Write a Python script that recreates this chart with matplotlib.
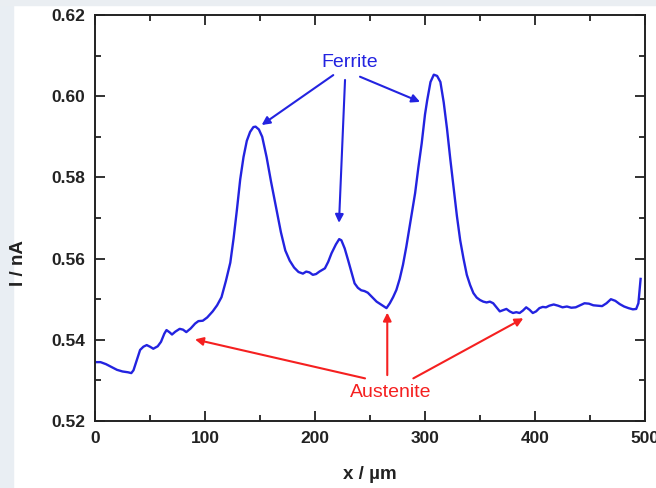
import matplotlib
matplotlib.use("Agg")
import matplotlib.pyplot as plt
from matplotlib.patches import Rectangle
from matplotlib.ticker import MultipleLocator

plt.rcParams['font.family'] = ['Liberation Sans', 'DejaVu Sans']

# Line scan of tip current across the duplex steel surface
position_um = [0, 5, 10, 15, 20, 25, 30, 33, 35, 38, 41, 44, 47, 50, 53, 57, 60, 63, 65, 68,
               70, 73, 77, 80, 83, 87, 91, 94, 98, 102, 107, 111, 115, 119, 123, 126, 129, 132,
               135, 138, 141, 144, 146, 149, 152, 156, 160, 165, 169, 173, 177, 181, 185, 189,
               192, 195, 198, 201, 204, 209, 212, 215, 219, 222, 224, 227, 230, 233, 236, 239,
               242, 245, 248, 252, 256, 260, 265, 268, 271, 274, 277, 280, 283, 287, 291, 294,
               297, 300, 302, 305, 308, 311, 314, 317, 320, 323, 326, 329, 332, 335, 338, 341,
               344, 347, 350, 353, 356, 359, 362, 365, 368, 371, 374, 377, 380, 383, 386, 389,
               392, 395, 398, 401, 404, 407, 410, 413, 417, 421, 425, 429, 433, 437, 441, 445,
               449, 453, 457, 461, 465, 469, 473, 477, 481, 485, 489, 492, 494, 496]
current_nA = [0.5345, 0.5345, 0.5340, 0.5333, 0.5326, 0.5322, 0.5320, 0.5318, 0.5325, 0.5350,
              0.5375, 0.5383, 0.5387, 0.5383, 0.5378, 0.5384, 0.5395, 0.5415, 0.5424, 0.5418,
              0.5413, 0.5420, 0.5427, 0.5425, 0.5419, 0.5428, 0.5440, 0.5446, 0.5447, 0.5455,
              0.5470, 0.5485, 0.5505, 0.5545, 0.5590, 0.5650, 0.5720, 0.5795, 0.5850, 0.5890,
              0.5912, 0.5924, 0.5925, 0.5918, 0.5900, 0.5850, 0.5790, 0.5720, 0.5665, 0.5620,
              0.5595, 0.5578, 0.5567, 0.5563, 0.5568, 0.5566, 0.5560, 0.5562, 0.5568, 0.5576,
              0.5592, 0.5613, 0.5635, 0.5648, 0.5645, 0.5625, 0.5597, 0.5568, 0.5539, 0.5528,
              0.5522, 0.5520, 0.5516, 0.5505, 0.5494, 0.5487, 0.5478, 0.5490, 0.5505, 0.5523,
              0.5550, 0.5585, 0.5629, 0.5695, 0.5761, 0.5825, 0.5884, 0.5955, 0.5990, 0.6035,
              0.6053, 0.6050, 0.6035, 0.5985, 0.5920, 0.5845, 0.5775, 0.5705, 0.5645, 0.5600,
              0.5560, 0.5535, 0.5515, 0.5504, 0.5498, 0.5494, 0.5492, 0.5494, 0.5490, 0.5480,
              0.5470, 0.5473, 0.5476, 0.5470, 0.5466, 0.5468, 0.5466, 0.5472, 0.5480, 0.5474,
              0.5466, 0.5470, 0.5478, 0.5481, 0.5480, 0.5484, 0.5487, 0.5484, 0.5480, 0.5482,
              0.5479, 0.5480, 0.5485, 0.5490, 0.5489, 0.5485, 0.5484, 0.5483, 0.5490, 0.5500,
              0.5496, 0.5488, 0.5482, 0.5478, 0.5475, 0.5476, 0.5490, 0.5550]

x_ticks = [0, 100, 200, 300, 400, 500]
y_ticks = [0.52, 0.54, 0.56, 0.58, 0.60, 0.62]
y_tick_labels = ['0.52', '0.54', '0.56', '0.58', '0.60', '0.62']

# Phase annotations: label position and arrow targets (data coordinates)
ferrite_label = (231.8, 0.6084)
ferrite_arrows = [((216.6, 0.6052), (151.5, 0.5929)),
                  ((227.3, 0.6040), (221.8, 0.5688)),
                  ((240.9, 0.6048), (295.5, 0.5986))]
austenite_label = (269.0, 0.5270)
austenite_arrows = [((245.5, 0.5305), (90.9, 0.5401)),
                    ((265.7, 0.5313), (265.7, 0.5467)),
                    ((289.4, 0.5305), (389.4, 0.5453))]

W, H = 656, 488
fig = plt.figure(figsize=(W / 100, H / 100), dpi=100, facecolor='white')

# light page margin along the left and top edges
fig.patches.append(Rectangle((0, 0), 13 / W, 1, transform=fig.transFigure,
                             color='#e9eef3', zorder=-10))
fig.patches.append(Rectangle((0, 1 - 5 / H), 1, 5 / H, transform=fig.transFigure,
                             color='#eaeef2', zorder=-10))

left, right, top, bottom = 95, 645, 15, 421
ax = fig.add_axes([left / W, 1 - bottom / H, (right - left) / W, (bottom - top) / H])

blue = '#2323e0'
red = '#f52020'

ax.plot(position_um, current_nA, color=blue, lw=1.7)

ax.set_xlim(0, 500)
ax.set_ylim(0.52, 0.62)
ax.set_xticks(x_ticks)
ax.set_xticklabels([str(t) for t in x_ticks])
ax.set_yticks(y_ticks)
ax.set_yticklabels(y_tick_labels)
ax.xaxis.set_minor_locator(MultipleLocator(50))
ax.yaxis.set_minor_locator(MultipleLocator(0.01))

for s in ax.spines.values():
    s.set_linewidth(1.4)
    s.set_color('#222222')
ax.tick_params(which='both', direction='in', top=True, right=True, color='#222222',
               width=1.3, labelsize=12.5, pad=7)
ax.tick_params(which='major', length=7)
ax.tick_params(which='minor', length=4)
for lab in ax.get_xticklabels() + ax.get_yticklabels():
    lab.set_fontweight('bold')
    lab.set_color('#222222')

ax.set_xlabel('x / µm', fontsize=13.5, fontweight='bold', color='#222222')
ax.xaxis.set_label_coords(0.5, -0.11)
ax.set_ylabel('I / nA', fontsize=13.5, fontweight='bold', color='#222222')
ax.yaxis.set_label_coords(-0.123, 0.39)

ax.text(*ferrite_label, 'Ferrite', color=blue, fontsize=14, ha='center', va='center')
for tail, head in ferrite_arrows:
    ax.annotate('', xy=head, xytext=tail,
                arrowprops=dict(arrowstyle='-|>', color=blue, lw=1.5,
                                mutation_scale=12, shrinkA=0, shrinkB=0))

ax.text(*austenite_label, 'Austenite', color=red, fontsize=14, ha='center', va='center')
for tail, head in austenite_arrows:
    ax.annotate('', xy=head, xytext=tail,
                arrowprops=dict(arrowstyle='-|>', color=red, lw=1.5,
                                mutation_scale=12, shrinkA=0, shrinkB=0))

fig.savefig('out.png', dpi=100, facecolor=fig.get_facecolor())
